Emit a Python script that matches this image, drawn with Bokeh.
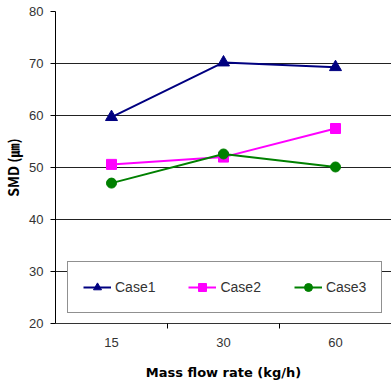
from bokeh.plotting import figure
from bokeh.models import Range1d, FixedTicker, Legend, LegendItem
from bokeh.embed import file_html
from bokeh.resources import INLINE

categories = ["15", "30", "60"]
case1 = [59.7, 70.2, 69.3]
case2 = [50.6, 52.0, 57.5]
case3 = [47.0, 52.6, 50.1]
y_ticks = [20, 30, 40, 50, 60, 70, 80]

xs = [i + 0.5 for i in range(len(categories))]
bounds = [i for i in range(1, len(categories))]

p = figure(width=391, height=383, output_backend="svg", toolbar_location=None,
           x_range=Range1d(0, len(categories)), y_range=Range1d(20, 80),
           min_border_left=55, min_border_right=0, min_border_top=11, min_border_bottom=60)
p.outline_line_color = None
p.background_fill_color = "white"
p.border_fill_color = "white"

p.xaxis.ticker = FixedTicker(ticks=xs, minor_ticks=bounds)
p.xaxis.major_label_overrides = {x: c for x, c in zip(xs, categories)}
p.xaxis.major_tick_out = 0
p.xaxis.major_tick_in = 0
p.xaxis.minor_tick_out = 5
p.xaxis.minor_tick_in = 0
p.xaxis.minor_tick_line_color = "black"
p.xaxis.axis_line_color = "#333333"
p.xaxis.major_label_standoff = 9
p.xaxis.axis_label = "Mass flow rate (kg/h)"
p.xaxis.axis_label_standoff = 15
p.xaxis.axis_label_text_font = "DejaVu Sans"
p.xaxis.axis_label_text_font_size = "13px"

p.yaxis.ticker = FixedTicker(ticks=y_ticks, minor_ticks=[])
p.yaxis.major_tick_out = 5
p.yaxis.major_tick_in = 0
p.yaxis.major_tick_line_color = "black"
p.yaxis.axis_line_color = "black"
p.yaxis.major_label_standoff = 7
p.yaxis.axis_label = "SMD (㎛)"
p.yaxis.axis_label_standoff = 3
p.yaxis.axis_label_text_font = "Noto Sans CJK KR"
p.yaxis.axis_label_text_font_size = "14px"

for ax in (p.xaxis, p.yaxis):
    ax.major_label_text_font = "Liberation Sans"
    ax.major_label_text_font_size = "13px"
    ax.major_label_text_color = "#333333"
    ax.axis_label_text_font_style = "bold"
    ax.axis_label_text_color = "black"

p.xgrid.visible = False
p.ygrid.ticker = FixedTicker(ticks=y_ticks)
p.ygrid.grid_line_color = "#222222"
p.ygrid.grid_line_width = 1

l1 = p.line(xs, case1, line_color="#000080", line_width=2)
m1 = p.scatter(xs, case1, marker="triangle", size=12, fill_color="#000080", line_color="#000080")
l2 = p.line(xs, case2, line_color="#FF00FF", line_width=2)
m2 = p.scatter(xs, case2, marker="square", size=10, fill_color="#FF00FF", line_color="#FF00FF")
l3 = p.line(xs, case3, line_color="#008000", line_width=2)
m3 = p.scatter(xs, case3, marker="circle", size=10, fill_color="#008000", line_color="#008000")

legend = Legend(items=[LegendItem(label="Case1", renderers=[l1, m1]),
                       LegendItem(label="Case2", renderers=[l2, m2]),
                       LegendItem(label="Case3", renderers=[l3, m3])],
                orientation="horizontal", location=(12, 10),
                padding=15, spacing=33, glyph_width=28, glyph_height=20,
                label_standoff=4, label_height=20,
                label_text_font="Liberation Sans", label_text_font_size="14px",
                label_text_color="#333333",
                border_line_color="#222222", border_line_width=1,
                background_fill_color="white", background_fill_alpha=1.0)
p.add_layout(legend, "center")

open("out.html", "w").write(file_html(p, INLINE))
